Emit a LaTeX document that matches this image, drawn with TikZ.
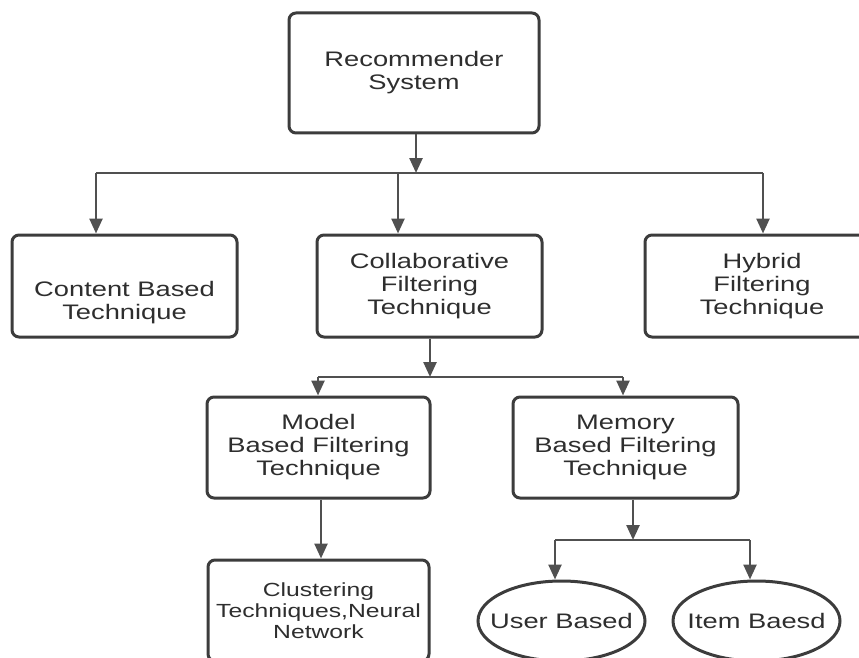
\documentclass[tikz,border=0pt]{standalone}
\usepackage{fontspec}
\setmainfont{Liberation Sans}[FakeStretch=1.3]
\usetikzlibrary{arrows.meta,shapes.geometric}
\definecolor{edgegray}{HTML}{3C3C3C}
\definecolor{wiregray}{HTML}{505050}
\definecolor{inkgray}{HTML}{2E2E2E}

\begin{document}
\begin{tikzpicture}[x=1pt,y=-1pt,
  box/.style={draw=edgegray, line width=3pt, rounded corners=7pt, fill=white,
    align=center, text=inkgray, inner sep=0pt,
    font=\fontsize{21}{23}\selectfont},
  oval/.style={ellipse, draw=edgegray, line width=3pt, fill=white,
    text=inkgray, inner sep=0pt,
    font=\fontsize{21}{23}\selectfont},
  wire/.style={draw=wiregray, line width=2.5pt},
  arr/.style={wire, -{Triangle[width=13pt,length=15pt]}}]

\useasboundingbox (0,0) rectangle (859,658);
\clip (0,0) rectangle (859,658);

% boxes
\node[box, minimum width=250pt, minimum height=120pt] (rec) at (414,73)
  {Recommender\\System};
\node[box, minimum width=225pt, minimum height=102pt] (content) at (124.5,286)
  {\rule{0pt}{48pt}Content Based\\Technique};
\node[box, minimum width=225pt, minimum height=102pt] (collab) at (429.5,286)
  {Collaborative\\Filtering\\Technique};
\node[box, minimum width=250pt, minimum height=102pt] (hybrid) at (770,286)
  {\hspace*{-16pt}Hybrid\\\hspace*{-16pt}Filtering\\\hspace*{-16pt}Technique};
\node[box, minimum width=223pt, minimum height=101pt] (model) at (318.5,447.5)
  {Model\\Based Filtering\\Technique};
\node[box, minimum width=225pt, minimum height=101pt] (memory) at (625.5,447.5)
  {Memory\\Based Filtering\\Technique};
\node[box, minimum width=221pt, minimum height=101pt,
  font=\fontsize{19}{21}\selectfont] (cluster) at (318.5,610.5)
  {Clustering\\Techniques,Neural\\Network};
\node[oval, minimum width=167pt, minimum height=80pt] (user) at (561.5,621)
  {\makebox[0pt]{User Based}};
\node[oval, minimum width=167pt, minimum height=80pt] (item) at (756.5,621)
  {\makebox[0pt]{Item Baesd}};

% first level split
\coordinate (j1) at (416,173);
\coordinate (d1) at (96,173);
\coordinate (d2) at (398,173);
\coordinate (d3) at (763,173);
\draw[arr] (rec.south -| j1) -- (j1);
\draw[wire] (d1) -- (d3);
\draw[arr] (d1) -- (d1 |- content.north);
\draw[arr] (d2) -- (d2 |- collab.north);
\draw[arr] (d3) -- (d3 |- hybrid.north);

% collaborative split
\coordinate (j2) at (430,377);
\coordinate (e1) at (318,377);
\coordinate (e2) at (623,377);
\draw[arr] (collab.south -| j2) -- (j2);
\draw[wire] (e1) -- (e2);
\draw[arr] (e1) -- (e1 |- model.north);
\draw[arr] (e2) -- (e2 |- memory.north);

% model based
\coordinate (m1) at (321,498);
\draw[arr] (model.south -| m1) -- (m1 |- cluster.north);

% memory based split
\coordinate (j3) at (633,540);
\coordinate (f1) at (555,540);
\coordinate (f2) at (750,540);
\draw[arr] (memory.south -| j3) -- (j3);
\draw[wire] (f1) -- (f2);
\draw[arr] (f1) -- (f1 |- user.north);
\draw[arr] (f2) -- (f2 |- item.north);
\end{tikzpicture}
\end{document}
